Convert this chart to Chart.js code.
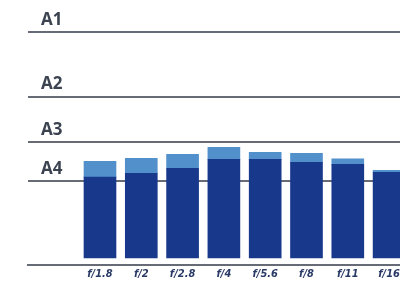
<!DOCTYPE html>
<html>
<head>
<meta charset="utf-8">
<script src="https://cdn.jsdelivr.net/npm/chart.js@4/dist/chart.umd.min.js"></script>
<style>
  html, body { margin: 0; padding: 0; background: #ffffff; overflow: hidden; }
  #wrap { width: 400px; height: 287px; position: relative; }
</style>
</head>
<body>
<div id="wrap"><canvas id="c"></canvas></div>
<script>
// Categories (apertures)
const categories = ['f/1.8', 'f/2', 'f/2.8', 'f/4', 'f/5.6', 'f/8', 'f/11', 'f/16'];
// Reference levels (grid lines) and their labels
const levelValues = [84, 123, 169, 234];
const levelLabels = ['A4', 'A3', 'A2', 'A1'];
// Bar base value
const barBase = 7;
// Dark (lower) part top values
const darkValues = [88, 92, 97, 106, 106, 103, 101, 93];
// Light (upper) part top values
const lightValues = [104, 107, 111, 118, 113, 112, 106.5, 95];

const darkData = categories.map((c, i) => ({ x: i, y: [barBase, darkValues[i]] }));
const lightData = categories.map((c, i) => ({ x: i, y: [darkValues[i], lightValues[i]] }));

new Chart(document.getElementById('c'), {
  type: 'bar',
  data: {
    datasets: [
      { label: 'dark', data: darkData, backgroundColor: '#18388c', grouped: false, barThickness: 32, borderWidth: 0 },
      { label: 'light', data: lightData, backgroundColor: '#5290cc', grouped: false, barThickness: 32, borderWidth: 0 }
    ]
  },
  options: {
    responsive: true,
    maintainAspectRatio: false,
    animation: false,
    layout: { padding: { top: 0, right: 0, bottom: 3, left: 28 } },
    plugins: { legend: { display: false }, tooltip: { enabled: false } },
    scales: {
      x: {
        type: 'linear',
        offset: false,
        min: -1.743,
        max: 7.264,
        grid: { display: false, drawTicks: false, offset: false },
        border: { display: true, color: '#676b75', width: 2 },
        afterBuildTicks: (scale) => { scale.ticks = categories.map((c, i) => ({ value: i })); },
        afterFit: (scale) => { scale.paddingLeft = 0; scale.paddingRight = 0; },
        ticks: {
          autoSkip: false,
          maxRotation: 0,
          padding: 3,
          color: '#2a3a66',
          font: { family: "'Liberation Sans Narrow', 'DejaVu Sans Condensed', sans-serif", size: 11, style: 'italic', weight: 'bold' },
          callback: (v) => categories[v] !== undefined ? categories[v] : ''
        }
      },
      y: {
        type: 'linear',
        min: 0,
        max: 266,
        grid: { color: '#676b75', lineWidth: 2, drawTicks: false },
        border: { display: false },
        afterBuildTicks: (scale) => { scale.ticks = levelValues.map(v => ({ value: v })); },
        afterFit: (scale) => { scale.width = 0; scale.paddingTop = 0; scale.paddingBottom = 0; },
        ticks: {
          mirror: true,
          padding: 13,
          labelOffset: -12,
          color: '#3c4350',
          font: { family: "'Open Sans', sans-serif", size: 17, weight: 'bold' },
          callback: (v) => { const k = levelValues.indexOf(v); return k >= 0 ? levelLabels[k] : ''; }
        }
      }
    }
  }
});
</script>
</body>
</html>
